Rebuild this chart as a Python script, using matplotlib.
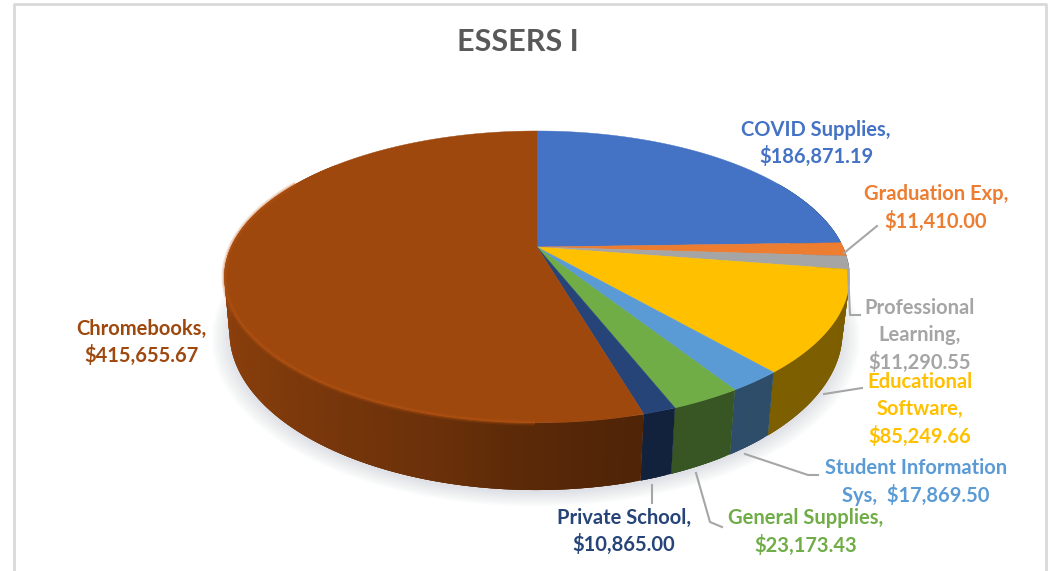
import numpy as np
import matplotlib
matplotlib.use("Agg")
import matplotlib.pyplot as plt

title = "ESSERS I"
categories = ["COVID Supplies", "Graduation Exp", "Professional Learning", "Educational Software",
              "Student Information Sys", "General Supplies", "Private School", "Chromebooks"]
values = [186871.19, 11410.00, 11290.55, 85249.66, 17869.50, 23173.43, 10865.00, 415655.67]
colors = ["#4472C4", "#ED7D31", "#A5A5A5", "#FFC000", "#5B9BD5", "#70AD47", "#264478", "#9E480E"]
label_lines = [["COVID Supplies,", "$186,871.19"],
               ["Graduation Exp,", "$11,410.00"],
               ["Professional", "Learning,", "$11,290.55"],
               ["Educational", "Software,", "$85,249.66"],
               ["Student Information", "Sys,  $17,869.50"],
               ["General Supplies,", "$23,173.43"],
               ["Private School,", "$10,865.00"],
               ["Chromebooks,", "$415,655.67"]]
label_pos = [(816, 143), (936, 208), (920, 335), (920, 409), (916, 482), (806, 532), (624, 531), (141, 342)]
leaders = [None,
           [(844, 253), (877, 226)],
           [(848, 270), (850, 315), (860, 315)],
           [(824, 394), (862, 388)],
           [(745, 454), (808, 475), (818, 475)],
           [(696, 473), (710, 522), (722, 527)],
           [(652, 485), (652, 503)],
           None]

K = 0.205
TOP = dict(cx=537, cy=247, a=306, b=139.8)
BOT = dict(cx=536, cy=299.6, a=300, b=151.4)


def project(theta_deg, r, g):
    t = np.radians(theta_deg)
    u, v = r * np.sin(t), r * np.cos(t)
    w = 1 + K * v
    return g["cx"] + g["a"] * u / w, g["cy"] - g["b"] * v / w


def side_shade(th):
    return np.interp(th, [80, 165, 183, 196, 230, 270, 300], [0.48, 0.50, 0.58, 0.68, 0.82, 0.93, 0.95])


def rgb(c, s=1.0):
    return tuple(min(1, x * s) for x in matplotlib.colors.to_rgb(c))


fig = plt.figure(figsize=(10.61, 5.71), dpi=100)
ax = fig.add_axes([0, 0, 1, 1])
ax.set_xlim(0, 1061)
ax.set_ylim(571, 0)
ax.axis("off")

# chart frame
ax.plot([14, 14, 1046, 1046], [571, 3.5, 3.5, 571], color="#d9d9d9", lw=2, zorder=1)

fractions = np.array(values) / np.sum(values)
edges = np.concatenate([[0], np.cumsum(fractions) * 360])

# soft shadow below the pie
full = np.linspace(0, 360, 361)
for grow in np.linspace(1.055, 1.0, 10):
    sx, sy = project(full, grow, BOT)
    ax.fill(sx, sy + 3, color="#8a98ad", alpha=0.028, lw=0, zorder=2)

# side wall: each strip runs on to the end of its slice so later strips paint over the seam
for i, c in enumerate(colors):
    a0, a1 = edges[i], edges[i + 1]
    steps = np.append(np.arange(a0, a1, 1.0), a1)
    for t0 in steps[:-1]:
        t_end = min(t0 + 3.0, a1)
        if t0 + 0.5 < 60 or t0 + 0.5 > 310:
            continue
        arc = np.linspace(t0, t_end, 5)
        xa, ya = project(arc, 1, TOP)
        xb, yb = project(arc[::-1], 1, BOT)
        ax.fill(np.r_[xa, xb], np.r_[ya, yb], color=rgb(c, side_shade(t0 + 0.5)), lw=0, zorder=3)

# top face
for i, c in enumerate(colors):
    th = np.linspace(edges[i], edges[i + 1], max(int(edges[i + 1] - edges[i]) * 2, 4))
    x, y = project(th, 1, TOP)
    x0, y0 = project(0, 0, TOP)
    ax.fill(np.r_[x0, x], np.r_[y0, y], color=c, lw=0.3, zorder=4)
    # soft bevel along the rim
    vis = th[(th > 180) & (th < 300)]
    if len(vis) > 1:
        rx, ry = project(vis, 1, TOP)
        ax.plot(rx, ry, color=rgb(c, 1.2), lw=4, alpha=0.18, zorder=5, solid_capstyle="butt")
        ax.plot(rx, ry, color=rgb(c, 1.2), lw=2, alpha=0.30, zorder=5, solid_capstyle="butt")

# leader lines
for pts in leaders:
    if pts:
        ax.plot(*zip(*pts), color="#a6a6a6", lw=1.5, zorder=6)

# labels
font = "Lato"
LINE = 27
for lines, (lx, ly), c in zip(label_lines, label_pos, colors):
    n = len(lines)
    for j, s in enumerate(lines):
        ax.text(lx, ly + (j - (n - 1) / 2) * LINE, s, color=c, family=font, weight="bold",
                fontsize=14.5, ha="center", va="center", zorder=7)

ax.text(518, 42, title, color="#595959", family=font, weight="bold", fontsize=22,
        ha="center", va="center", zorder=7)

fig.savefig("out.png", dpi=100)
